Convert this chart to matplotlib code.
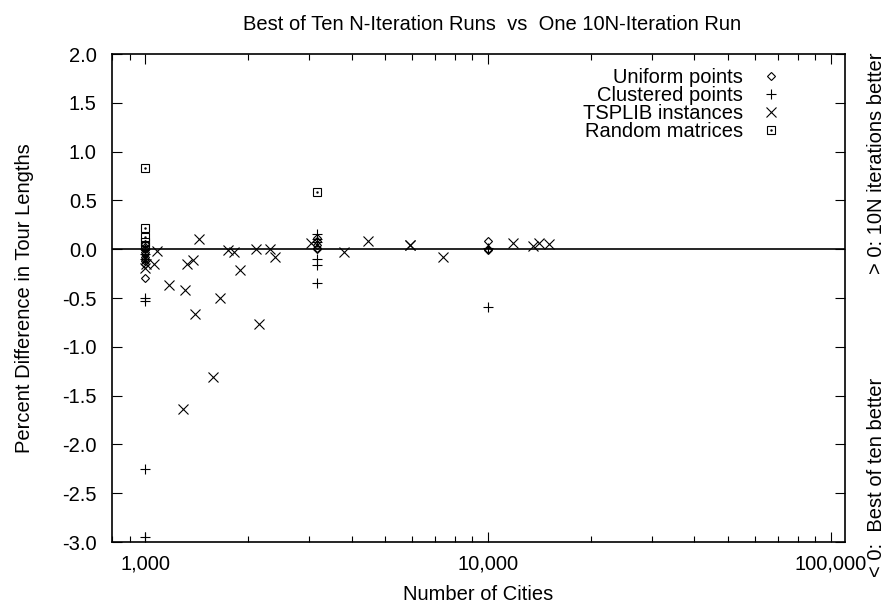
import matplotlib.pyplot as plt
from matplotlib.ticker import FixedLocator, NullFormatter, FuncFormatter

plt.rcParams['font.family'] = ['Liberation Sans', 'DejaVu Sans']

# Uniform points (diamonds)
unif_n = [1000] * 10 + [3162] * 5 + [10000] * 3
unif_pct = [0.05, 0.02, 0.0, -0.03, -0.05, -0.08, -0.10, -0.12, -0.15, -0.29,
            0.11, 0.08, 0.04, 0.01, 0.0,
            0.085, 0.0, -0.01]

# Clustered points (plus)
clus_n = [1000] * 7 + [3162] * 6 + [10000] * 2
clus_pct = [0.0, -0.05, -0.10, -0.50, -0.53, -2.25, -2.95,
            0.16, 0.10, 0.07, -0.10, -0.16, -0.35,
            0.01, -0.59]

# TSPLIB instances (x)
tsp_n = [1000, 1002, 1060, 1084, 1173, 1291, 1304, 1323, 1379, 1400,
         1432, 1577, 1655, 1748, 1817, 1889, 2103, 2152, 2319, 2392,
         3038, 3795, 4461, 5915, 5934, 7397, 11849, 13509, 14051, 15112]
tsp_pct = [-0.19, -0.15, -0.15, -0.02, -0.37, -1.64, -0.42, -0.15, -0.11, -0.66,
           0.10, -1.31, -0.50, -0.01, -0.03, -0.21, 0.0, -0.77, 0.0, -0.08,
           0.06, -0.03, 0.08, 0.04, 0.04, -0.08, 0.06, 0.03, 0.06, 0.05]

# Random matrices (squares)
rand_n = [1000] * 5 + [3162]
rand_pct = [0.83, 0.22, 0.13, 0.07, 0.03, 0.59]

yticks = [2.0, 1.5, 1.0, 0.5, 0.0, -0.5, -1.0, -1.5, -2.0, -2.5, -3.0]
xticks = [1000, 10000, 100000]

FS = 14.5

fig = plt.figure(figsize=(8.92, 6.06), dpi=100)
ax = fig.add_axes([112 / 892, 1 - 542 / 606, 733 / 892, 488 / 606])

ax.axhline(0, color='black', lw=1.2, zorder=1)

h1, = ax.plot(unif_n, unif_pct, ls='none', marker='D', ms=4.5, mfc='none',
              mec='black', mew=0.8, label='Uniform points')
h2, = ax.plot(clus_n, clus_pct, ls='none', marker='+', ms=7, color='black',
              mew=0.8, label='Clustered points')
h3, = ax.plot(tsp_n, tsp_pct, ls='none', marker='x', ms=7, color='black',
              mew=0.8, label='TSPLIB instances')
h4, = ax.plot(rand_n, rand_pct, ls='none', marker='s', ms=6, mfc='none',
              mec='black', mew=0.8)
h4d, = ax.plot(rand_n, rand_pct, ls='none', marker='.', ms=1.5, color='black')

ax.set_xscale('log')
ax.set_xlim(800, 110000)
ax.set_ylim(-3.0, 2.0)
ax.set_yticks(yticks)
ax.yaxis.set_major_formatter(FuncFormatter(lambda v, p: f'{v:.1f}'))
ax.xaxis.set_major_locator(FixedLocator(xticks))
ax.xaxis.set_major_formatter(FuncFormatter(lambda v, p: f'{int(v):,}'))
ax.xaxis.set_minor_formatter(NullFormatter())

ax.tick_params(which='both', direction='in', top=True, right=True,
               labelsize=FS, width=0.8)
ax.tick_params(axis='y', which='major', length=7, pad=11)
ax.tick_params(axis='x', which='major', length=7, pad=9)
ax.tick_params(which='minor', length=4)
for s in ax.spines.values():
    s.set_linewidth(1.2)

ax.set_xlabel('Number of Cities', fontsize=FS, labelpad=8)
ax.set_ylabel('Percent Difference in Tour Lengths', fontsize=FS, labelpad=20)
ax.set_title('Best of Ten N-Iteration Runs  vs  One 10N-Iteration Run',
             fontsize=FS, pad=17, x=0.518)

fig.text(877 / 892, 1 - 577 / 606, '< 0:  Best of ten better',
         rotation=90, ha='center', va='bottom', fontsize=FS)
fig.text(877 / 892, 1 - 53 / 606, '> 0: 10N iterations better',
         rotation=90, ha='center', va='top', fontsize=FS)

ax.legend([h1, h2, h3, (h4, h4d)],
          ['Uniform points', 'Clustered points', 'TSPLIB instances', 'Random matrices'],
          loc='upper right', frameon=False, markerfirst=False, fontsize=FS,
          handlelength=1.0, handletextpad=0.9, labelspacing=-0.05,
          bbox_to_anchor=(0.938, 1.009))

fig.savefig('out.png', dpi=100)
